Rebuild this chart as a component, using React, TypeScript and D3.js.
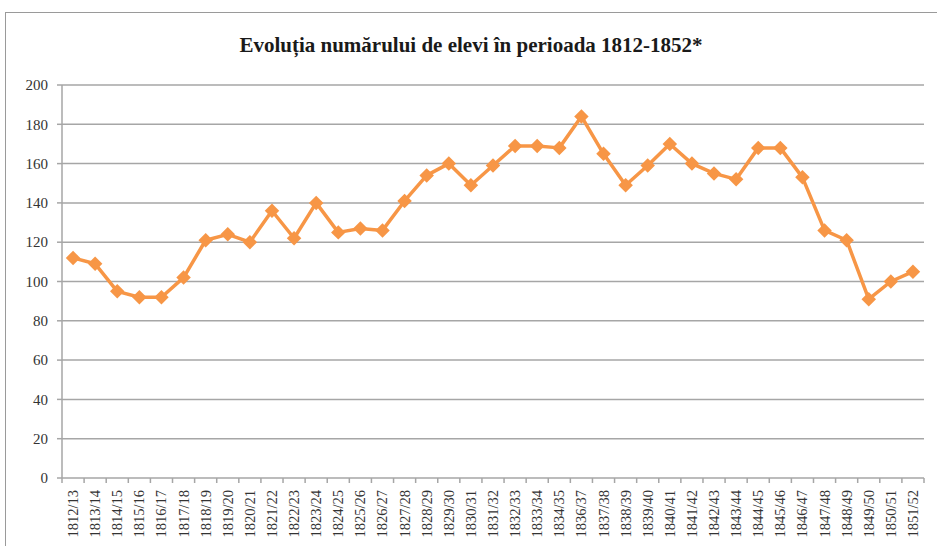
import * as d3 from 'd3'

const categories = [
  '1812/13', '1813/14', '1814/15', '1815/16', '1816/17', '1817/18', '1818/19', '1819/20',
  '1820/21', '1821/22', '1822/23', '1823/24', '1824/25', '1825/26', '1826/27', '1827/28',
  '1828/29', '1829/30', '1830/31', '1831/32', '1832/33', '1833/34', '1834/35', '1836/37',
  '1837/38', '1838/39', '1839/40', '1840/41', '1841/42', '1842/43', '1843/44', '1844/45',
  '1845/46', '1846/47', '1847/48', '1848/49', '1849/50', '1850/51', '1851/52',
]

const elevi = [
  112, 109, 95, 92, 92, 102, 121, 124,
  120, 136, 122, 140, 125, 127, 126, 141,
  154, 160, 149, 159, 169, 169, 168, 184,
  165, 149, 159, 170, 160, 155, 152, 168,
  168, 153, 126, 121, 91, 100, 105,
]

const yTicks = [0, 20, 40, 60, 80, 100, 120, 140, 160, 180, 200]

const title = 'Evoluția numărului de elevi în perioada 1812-1852*'

const W = 937
const H = 546
const margin = { left: 62, right: 13, top: 85, bottom: 68 }
const font = 'Liberation Serif, DejaVu Serif, serif'

export default function App() {
  const x = d3.scaleBand<string>()
    .domain(categories)
    .range([margin.left, W - margin.right])
    .padding(0)

  const y = d3.scaleLinear()
    .domain([0, 200])
    .range([H - margin.bottom, margin.top])

  const cx = (c: string) => (x(c) ?? 0) + x.bandwidth() / 2

  const line = d3.line<number>()
    .x((_, i) => cx(categories[i]))
    .y(d => y(d))

  // square turned 45 degrees, like the spreadsheet marker
  const marker = d3.symbol().type(d3.symbolSquare).size(105)()

  const y0 = y(0)
  const boundaries = categories.map(c => x(c) ?? 0).concat([W - margin.right])

  return (
    <svg width={W} height={H} style={{ position: 'absolute', left: 0, top: 0 }}>
      <rect x={0} y={0} width={W} height={H} fill="#fff" />
      <rect x={5.5} y={12.5} width={W + 10} height={H + 10} fill="none" stroke="#9a9a9a" strokeWidth={1} />

      <text x={471} y={52} textAnchor="middle" style={{ fontFamily: font }} fontWeight="bold"
        fontSize={21} fill="#1a1a1a">{title}</text>

      {yTicks.map(t => (
        <g key={t}>
          <line x1={margin.left} x2={W - margin.right} y1={y(t)} y2={y(t)}
            stroke="#a6a6a6" strokeWidth={1.5} />
          <text x={48} y={y(t)} dy="0.35em" textAnchor="end" style={{ fontFamily: font }}
            fontSize={15} fill="#333">{t}</text>
        </g>
      ))}

      <line x1={margin.left} x2={margin.left} y1={margin.top} y2={y0}
        stroke="#a6a6a6" strokeWidth={1.5} />
      {yTicks.map(t => (
        <line key={'yt' + t} x1={margin.left - 5} x2={margin.left} y1={y(t)} y2={y(t)}
          stroke="#a6a6a6" strokeWidth={1.5} />
      ))}

      {boundaries.map((b, i) => (
        <line key={'xt' + i} x1={b} x2={b} y1={y0} y2={y0 + 5}
          stroke="#a6a6a6" strokeWidth={1.5} />
      ))}

      {categories.map(c => (
        <text key={c} transform={`translate(${cx(c) + 5},${y0 + 12}) rotate(-90)`}
          textAnchor="end" style={{ fontFamily: font }} fontSize={14.5} fill="#333">{c}</text>
      ))}

      <path d={line(elevi) ?? ''} fill="none" stroke="#F79646" strokeWidth={3.5}
        strokeLinejoin="round" />
      {elevi.map((v, i) => (
        <path key={i} d={marker ?? ''}
          transform={`translate(${cx(categories[i])},${y(v)}) rotate(45)`}
          fill="#F79646" />
      ))}
    </svg>
  )
}
